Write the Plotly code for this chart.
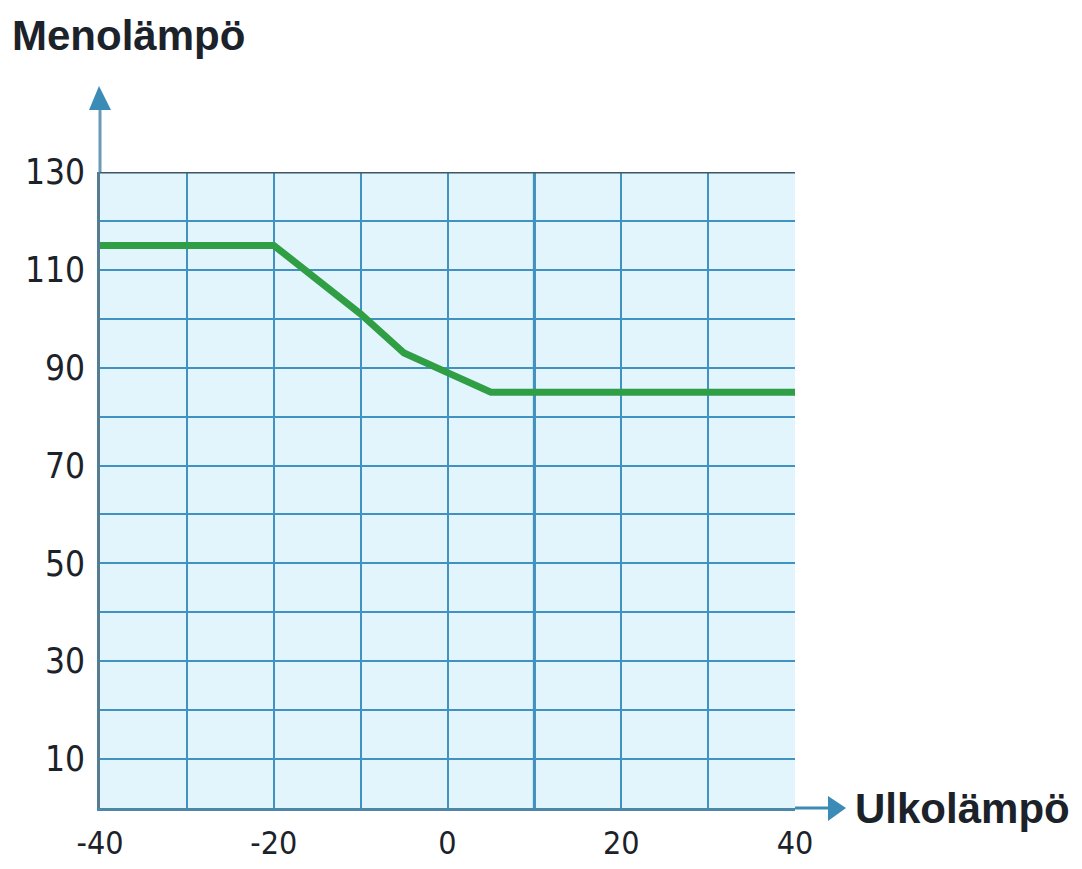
import plotly.graph_objects as go

# Data
outdoor_temp = [-40, -20, -10, -5, 0, 5, 40]
supply_temp = [115, 115, 101, 93, 89, 85, 85]

x_tick_vals = [-40, -20, 0, 20, 40]
x_tick_text = ["-40", "-20", "0", "20", "40"]
y_tick_vals = [10, 30, 50, 70, 90, 110, 130]
y_tick_text = ["10", "30", "50", "70", "90", "110", "130"]

x_title = "Ulkolämpö"
y_title = "Menolämpö"

# Page geometry: the html body has an 8px margin
OFF = 8
W, H = 1082 - 2 * OFF, 869 - 2 * OFF
# plot area in screen pixels
L, R, T, B = 100, 795, 172, 808
pw, ph = R - L, B - T

def px(x):
    return (x - L) / pw

def py(y):
    return (B - y) / ph

grid_col = "#3f92c2"
axis_col = "#4d87a8"
arrow_col = "#3a8bb5"
text_col = "#1c2229"
fam = "DejaVu Sans Condensed, Liberation Sans Narrow, DejaVu Sans"
x_tick_font = dict(family=fam, size=32, color=text_col)
y_tick_font = dict(family=fam, size=35, color=text_col)
title_font = dict(family="Liberation Sans, Arial, sans-serif", size=42, color=text_col)

fig = go.Figure()
fig.add_trace(go.Scatter(
    x=outdoor_temp, y=supply_temp, mode="lines",
    line=dict(color="#2f9e44", width=7),
    hoverinfo="skip", showlegend=False, cliponaxis=False,
))

fig.update_layout(
    width=W, height=H,
    margin=dict(l=L - OFF, r=(1082 - OFF) - R, t=T - OFF, b=(869 - OFF) - B, autoexpand=False),
    paper_bgcolor="white",
    plot_bgcolor="#e2f5fc",
    showlegend=False,
    xaxis=dict(
        range=[-40, 40], tickvals=x_tick_vals, ticktext=x_tick_text,
        showgrid=True, gridcolor=grid_col, gridwidth=2,
        minor=dict(dtick=10, tick0=-40, showgrid=True, gridcolor=grid_col, gridwidth=2),
        showline=True, linecolor=axis_col, linewidth=3,
        zeroline=False, ticks="", tickfont=x_tick_font, ticklabelstandoff=5,
        fixedrange=True,
    ),
    yaxis=dict(
        range=[0, 130], tickvals=y_tick_vals, ticktext=y_tick_text,
        showgrid=True, gridcolor=grid_col, gridwidth=2,
        minor=dict(dtick=10, tick0=0, showgrid=True, gridcolor=grid_col, gridwidth=2),
        showline=True, linecolor="#557c92", linewidth=3,
        zeroline=False, ticks="", tickfont=y_tick_font, ticklabelstandoff=5,
        fixedrange=True,
    ),
)

shapes = []
# dark top border at 130
shapes.append(dict(type="line", xref="paper", yref="y", x0=0, x1=1, y0=130, y1=130,
                   line=dict(color="#3c5866", width=3), layer="above"))
# emphasised vertical line at 10
shapes.append(dict(type="line", xref="x", yref="paper", x0=10, x1=10, y0=0, y1=1,
                   line=dict(color="#3585b0", width=3), layer="below"))
# y axis extension + arrowhead
shapes.append(dict(type="line", xref="paper", yref="paper", x0=0, x1=0, y0=1, y1=py(108),
                   line=dict(color="#6a9ab5", width=3)))
shapes.append(dict(type="path", xref="paper", yref="paper",
                   path=f"M {px(L-11)} {py(110)} L {px(L+11)} {py(110)} L {px(L-1)} {py(86)} Z",
                   fillcolor=arrow_col, line=dict(width=0)))
# x axis extension + arrowhead
shapes.append(dict(type="line", xref="paper", yref="paper", x0=1, x1=px(830), y0=0, y1=0,
                   line=dict(color=arrow_col, width=3)))
shapes.append(dict(type="path", xref="paper", yref="paper",
                   path=f"M {px(828)} {py(796)} L {px(828)} {py(821)} L {px(846)} {py(808)} Z",
                   fillcolor=arrow_col, line=dict(width=0)))
fig.update_layout(shapes=shapes)

fig.add_annotation(text=f"<b>{y_title}</b>", xref="paper", yref="paper",
                   x=px(10), y=py(35), xanchor="left", yanchor="middle",
                   showarrow=False, font=title_font)
fig.add_annotation(text=f"<b>{x_title}</b>", xref="paper", yref="paper",
                   x=px(853), y=py(808), xanchor="left", yanchor="middle",
                   showarrow=False, font=title_font)

fig.write_html("out.html", config={"displayModeBar": False})
